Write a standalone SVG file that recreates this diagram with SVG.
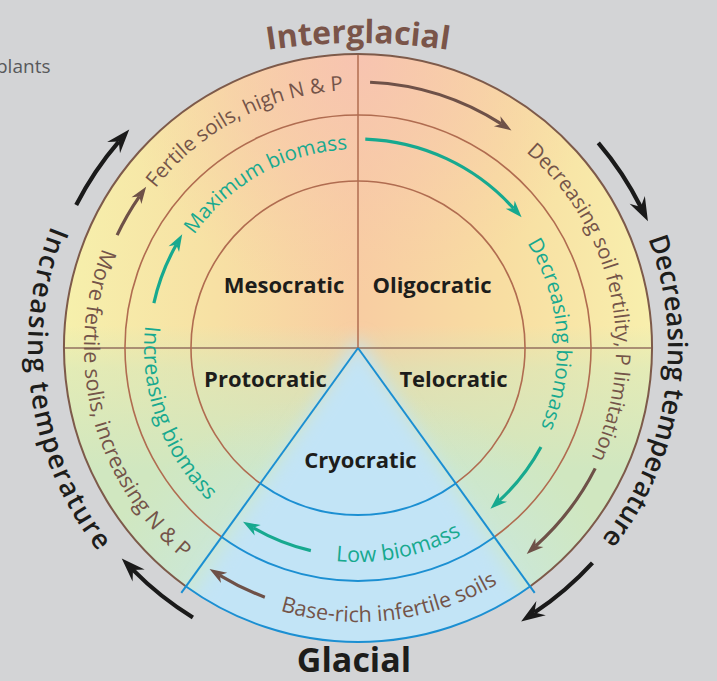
<svg xmlns="http://www.w3.org/2000/svg" width="717" height="681" viewBox="0 0 717 681">
<style>
text{font-family:"Open Sans","Liberation Sans",sans-serif}
.ring{fill:#745449;font-size:20.5px}
.ringIn{fill:#745449;font-size:21.5px}
.teal{fill:#17a98f;font-size:20.5px}
.tealIn{fill:#17a98f;font-size:21.5px}
.outer{fill:#1d1d1b;font-size:27px;font-weight:600}
.sector{fill:#1d1d1b;font-size:22px;font-weight:700;text-anchor:middle}
.brownArc{fill:none;stroke:#7d5a4a;stroke-width:2}
.ringArc{fill:none;stroke:#b06c50;stroke-width:1.6}
.blueArc{fill:none;stroke:#1b8fd2;stroke-width:2}
.arrB{fill:none;stroke:#6e5148;stroke-width:3.2;marker-end:url(#mB)}
.arrT{fill:none;stroke:#17a98f;stroke-width:3.2;marker-end:url(#mT)}
.arrK{fill:none;stroke:#1a1a1a;stroke-width:4.2;marker-end:url(#mK)}
</style>
<defs>
<clipPath id="disk"><circle cx="358" cy="348" r="294"/></clipPath>
<linearGradient id="gH" gradientUnits="userSpaceOnUse" x1="64" y1="0" x2="652" y2="0">
<stop offset="0" stop-color="#f6f0ac"/><stop offset="0.25" stop-color="#f7e1a4"/><stop offset="0.5" stop-color="#f8cda2"/><stop offset="0.75" stop-color="#f8dea2"/><stop offset="1" stop-color="#f8efad"/>
</linearGradient>
<radialGradient id="gPink" gradientUnits="userSpaceOnUse" cx="358" cy="60" r="240">
<stop offset="0" stop-color="#f7c3b2" stop-opacity="0.9"/><stop offset="0.5" stop-color="#f7c6ad" stop-opacity="0.5"/><stop offset="1" stop-color="#f8cba8" stop-opacity="0"/>
</radialGradient>
<linearGradient id="gGreen" gradientUnits="userSpaceOnUse" x1="0" y1="325" x2="0" y2="470">
<stop offset="0" stop-color="#d3e8be" stop-opacity="0"/><stop offset="0.3" stop-color="#d3e8be" stop-opacity="0.55"/><stop offset="1" stop-color="#d0e7c0" stop-opacity="1"/>
</linearGradient>
<radialGradient id="gBlue" gradientUnits="userSpaceOnUse" cx="358" cy="680" r="290">
<stop offset="0" stop-color="#c4e6f4" stop-opacity="0.95"/><stop offset="0.6" stop-color="#c6e7ee" stop-opacity="0.6"/><stop offset="1" stop-color="#c8e8e0" stop-opacity="0"/>
</radialGradient>
<filter id="blur" x="-0.3" y="-0.3" width="1.6" height="1.6"><feGaussianBlur stdDeviation="9"/></filter>
<marker id="mB" markerUnits="userSpaceOnUse" markerWidth="20" markerHeight="14" refX="5" refY="6" orient="auto" overflow="visible"><path d="M17,6 L0,0 L5,6 L0,12 Z" fill="#6e5148"/></marker>
<marker id="mT" markerUnits="userSpaceOnUse" markerWidth="20" markerHeight="14" refX="5" refY="6" orient="auto" overflow="visible"><path d="M17,6 L0,0 L5,6 L0,12 Z" fill="#17a98f"/></marker>
<marker id="mK" markerUnits="userSpaceOnUse" markerWidth="26" markerHeight="20" refX="8" refY="8.5" orient="auto" overflow="visible"><path d="M24,8.5 L0,0 L8,8.5 L0,17 Z" fill="#1a1a1a"/></marker>
<path id="pFert" d="M111.94,425.58 A258,258 0 0,1 562.69,190.94"/>
<path id="pDecSoil" d="M348.55,90.17 A258,258 0 0,1 455.06,587.04"/>
<path id="pMore" d="M244.38,98.67 A274,274 0 0,0 379.50,621.16"/>
<path id="pBase" d="M96.11,428.57 A274,274 0 0,0 631.65,361.86"/>
<path id="pMax" d="M170.07,413.45 A199,199 0 0,1 512.21,222.23"/>
<path id="pDecBio" d="M378.11,150.02 A199,199 0 0,1 406.82,540.92"/>
<path id="pIncBio" d="M251.65,162.30 A214,214 0 0,0 394.43,558.88"/>
<path id="pLow" d="M158.89,426.43 A214,214 0 0,0 571.93,342.40"/>
<path id="pIncT" d="M256.02,34.15 A330,330 0 0,0 346.48,677.80"/>
<path id="pDecT" d="M460.97,55.60 A310,310 0 0,1 361.25,657.98"/>
<path id="pInter" d="M108,99.6 A580,580 0 0,1 608,99.6"/>
</defs>
<rect width="717" height="681" fill="#d3d4d6"/>
<text x="-4" y="73" font-size="19" fill="#58595b">plants</text>

<g id="disk-fill" clip-path="url(#disk)">
<rect x="60" y="50" width="600" height="600" fill="url(#gH)"/>
<circle cx="358" cy="60" r="240" fill="url(#gPink)"/>
<rect x="60" y="300" width="600" height="350" fill="url(#gGreen)"/>
<circle cx="358" cy="680" r="290" fill="url(#gBlue)"/>
<polygon points="358,338 150,665 566,665" fill="#c2e4f6" filter="url(#blur)"/>
</g>

<g id="grid">
<line x1="358" y1="54" x2="358" y2="348" stroke="#b06c50" stroke-width="1.5"/>
<line x1="64" y1="348" x2="652" y2="348" stroke="#93705f" stroke-width="1.6"/>
<path class="brownArc" d="M186.02,586.45 A294,294 0 1,1 529.98,586.45"/>
<path class="ringArc" d="M221.70,536.98 A233,233 0 1,1 494.30,536.98"/>
<path class="ringArc" d="M260.31,483.45 A167,167 0 1,1 455.69,483.45"/>
<path class="blueArc" d="M529.98,586.45 A294,294 0 0,1 186.02,586.45"/>
<path class="blueArc" d="M494.30,536.98 A233,233 0 0,1 221.70,536.98"/>
<path class="blueArc" d="M455.69,483.45 A167,167 0 0,1 260.31,483.45"/>
<line x1="358" y1="348" x2="181.3" y2="592.9" stroke="#1b8fd2" stroke-width="2"/>
<line x1="358" y1="348" x2="534.7" y2="592.9" stroke="#1b8fd2" stroke-width="2"/>
</g>

<g id="node-mesocratic"><text class="sector" x="284" y="293">Mesocratic</text></g>
<g id="node-oligocratic"><text class="sector" x="432" y="293">Oligocratic</text></g>
<g id="node-protocratic"><text class="sector" x="265.5" y="387">Protocratic</text></g>
<g id="node-telocratic"><text class="sector" x="453.5" y="387">Telocratic</text></g>
<g id="node-cryocratic"><text class="sector" x="360.5" y="468">Cryocratic</text></g>

<g id="soil-labels">
<text class="ring"><textPath href="#pFert" startOffset="50%" text-anchor="middle">Fertile soils, high N &amp; P</textPath></text>
<text class="ring"><textPath href="#pDecSoil" startOffset="50%" text-anchor="middle">Decreasing soil fertility, P limitation</textPath></text>
<text class="ringIn"><textPath href="#pMore" startOffset="50%" text-anchor="middle">More fertile solis, increasing N &amp; P</textPath></text>
<text class="ringIn"><textPath href="#pBase" startOffset="50%" text-anchor="middle">Base-rich infertile soils</textPath></text>
</g>
<g id="biomass-labels">
<text class="teal"><textPath href="#pMax" startOffset="50%" text-anchor="middle">Maximum biomass</textPath></text>
<text class="teal"><textPath href="#pDecBio" startOffset="50%" text-anchor="middle">Decreasing biomass</textPath></text>
<text class="tealIn"><textPath href="#pIncBio" startOffset="50%" text-anchor="middle">Increasing biomass</textPath></text>
<text class="tealIn"><textPath href="#pLow" startOffset="50%" text-anchor="middle">Low biomass</textPath></text>
</g>
<g id="phase-labels">
<text font-size="32" font-weight="700" fill="#7a5449"><textPath href="#pInter" startOffset="50%" text-anchor="middle">Interglacial</textPath></text>
<text x="354" y="672" font-size="34" font-weight="700" fill="#1d1d1b" text-anchor="middle">Glacial</text>
<text class="outer" letter-spacing="1.7"><textPath href="#pIncT" startOffset="50.2%" text-anchor="middle">Increasing temperature</textPath></text>
<text class="outer"><textPath href="#pDecT" startOffset="49.6%" text-anchor="middle">Decreasing temperature</textPath></text>
</g>

<g id="connectors">
<path class="arrB" d="M370.07,82.27 A266,266 0 0,1 501.38,123.95"/>
<path class="arrT" d="M365.29,139.13 A209,209 0 0,1 513.56,208.42"/>
<path class="arrB" d="M117.12,235.16 A266,266 0 0,1 139.31,196.57"/>
<path class="arrT" d="M153.88,303.12 A209,209 0 0,1 176.28,244.77"/>
<path class="arrT" d="M540.97,446.93 A208,208 0 0,1 499.25,500.69"/>
<path class="arrB" d="M595.22,468.35 A266,266 0 0,1 535.64,545.99"/>
<path class="arrT" d="M310.86,550.59 A208,208 0 0,1 253.37,527.77"/>
<path class="arrB" d="M264.84,597.15 A266,266 0 0,1 219.81,575.29"/>
<path class="arrK" d="M76.19,205.03 A316,316 0 0,1 118.79,141.52"/>
<path class="arrK" d="M598.29,142.77 A316,316 0 0,1 640.80,207.00"/>
<path class="arrK" d="M592.46,562.84 A318,318 0 0,1 534.44,612.56"/>
<path class="arrK" d="M192.89,617.43 A316,316 0 0,1 133.00,569.88"/>
</g>
</svg>
